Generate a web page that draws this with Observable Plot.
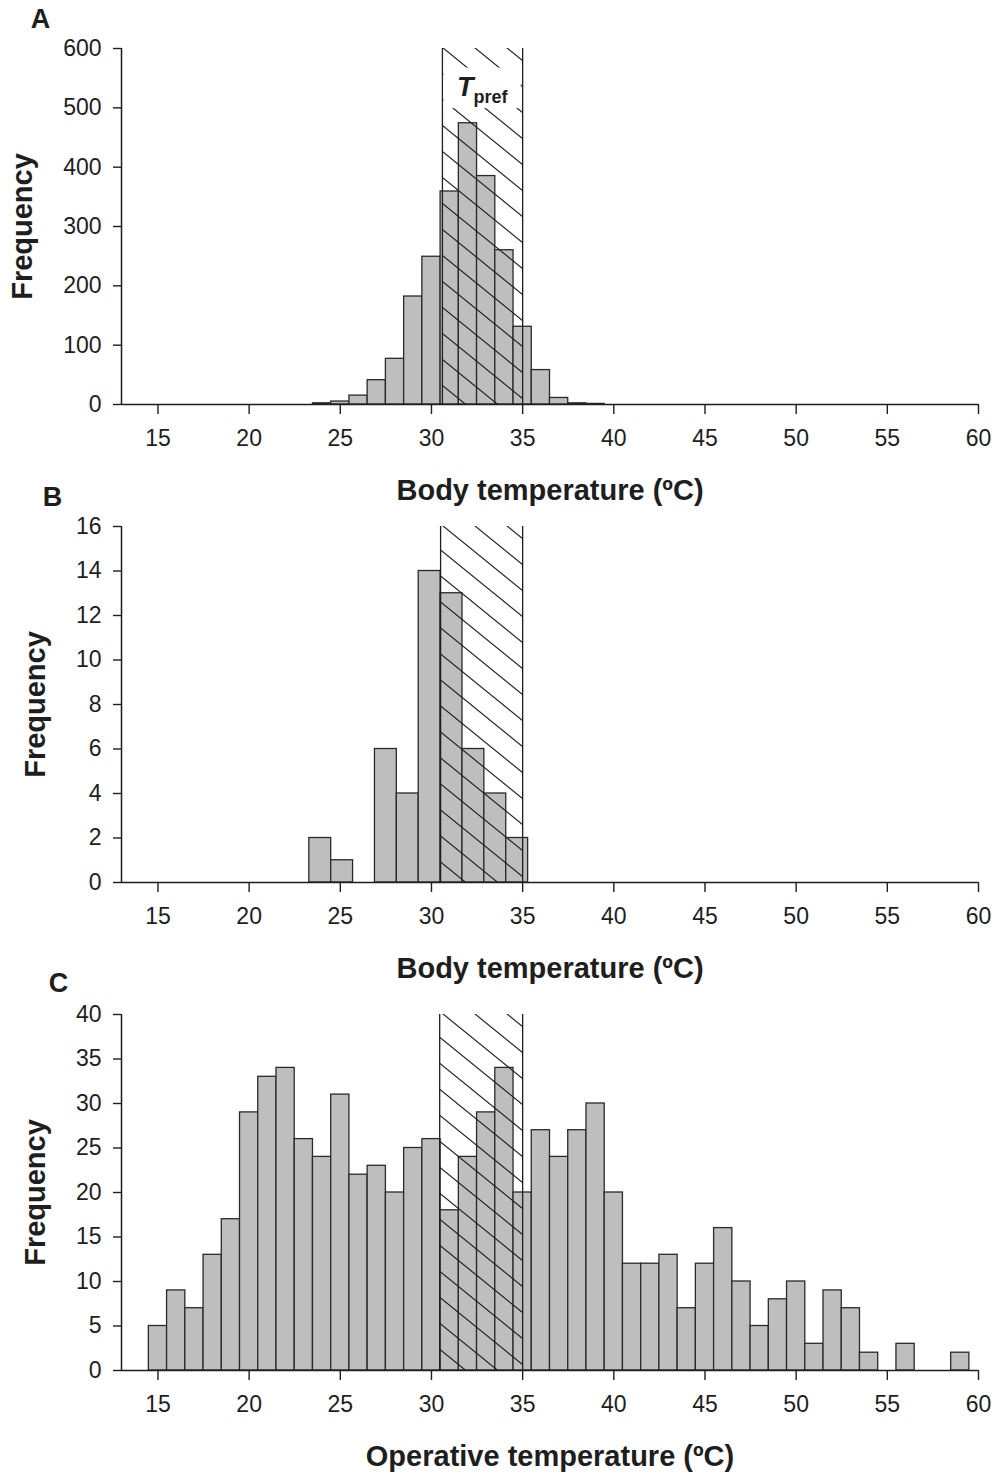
<!DOCTYPE html>
<html>
<head>
<meta charset="utf-8">
<script src="https://cdn.jsdelivr.net/npm/d3@7"></script>
<script src="https://cdn.jsdelivr.net/npm/@observablehq/plot@0.6"></script>
<style>
  body { margin: 0; background: #fff; }
  #wrap { position: relative; width: 995px; height: 1473px; overflow: hidden; background: #fff; }
  .panel { position: absolute; left: 0; }
  .panel svg { background: none !important; }
</style>
</head>
<body>
<div id="wrap"></div>
<script>
// ---------- data ----------
const xTicks = [15, 20, 25, 30, 35, 40, 45, 50, 55, 60];
const xDomain = [13, 60];

// Panel A: body temperature, 1 °C bins (centres)
const binCentersA = [24, 25, 26, 27, 28, 29, 30, 31, 32, 33, 34, 35, 36, 37, 38, 39];
const countsA     = [ 2,  5, 15, 41, 77, 182, 249, 359, 474, 385, 260, 131, 58, 11, 2, 1];
const binWidthA = 1;
const yTicksA = [0, 100, 200, 300, 400, 500, 600];
const tprefA = [30.6, 35.0];
const tprefLabelBandA = [499, 567];

// Panel B: body temperature, 1.2 °C bins (edges)
const binEdgesB = [23.3, 24.5, 25.7, 26.9, 28.1, 29.3, 30.5, 31.7, 32.9, 34.1, 35.3];
const countsB   = [2, 1, 0, 6, 4, 14, 13, 6, 4, 2];
const yTicksB = [0, 2, 4, 6, 8, 10, 12, 14, 16];
const tprefB = [30.5, 35.0];

// Panel C: operative temperature, 1 °C bins (centres)
const binCentersC = [15, 16, 17, 18, 19, 20, 21, 22, 23, 24, 25, 26, 27, 28, 29, 30, 31, 32, 33, 34, 35, 36, 37,
                     38, 39, 40, 41, 42, 43, 44, 45, 46, 47, 48, 49, 50, 51, 52, 53, 54, 55, 56, 57, 58, 59];
const countsC     = [ 5,  9,  7, 13, 17, 29, 33, 34, 26, 24, 31, 22, 23, 20, 25, 26, 18, 24, 29, 34, 20, 27, 24,
                     27, 30, 20, 12, 12, 13,  7, 12, 16, 10,  5,  8, 10,  3,  9,  7,  2,  0,  3,  0,  0,  2];
const binWidthC = 1;
const yTicksC = [0, 5, 10, 15, 20, 25, 30, 35, 40];
const tprefC = [30.45, 35.0];

// ---------- build rows ----------
const rowsA = binCentersA.map((c, i) => ({x1: c - binWidthA / 2, x2: c + binWidthA / 2, n: countsA[i]})).filter(d => d.n > 0);
const rowsB = countsB.map((n, i) => ({x1: binEdgesB[i], x2: binEdgesB[i + 1], n})).filter(d => d.n > 0);
const rowsC = binCentersC.map((c, i) => ({x1: c - binWidthC / 2, x2: c + binWidthC / 2, n: countsC[i]})).filter(d => d.n > 0);

const FONT = '"Liberation Sans", Arial, Helvetica, sans-serif';
const INK = "#1e1e1e";

function addPattern(svg, id) {
  const ns = "http://www.w3.org/2000/svg";
  const defs = document.createElementNS(ns, "defs");
  const pat = document.createElementNS(ns, "pattern");
  const w = 32, h = 26;
  pat.setAttribute("id", id);
  pat.setAttribute("patternUnits", "userSpaceOnUse");
  pat.setAttribute("width", w);
  pat.setAttribute("height", h);
  const path = document.createElementNS(ns, "path");
  path.setAttribute("d", `M${-w},${-h}L${2*w},${2*h}M0,${-h}L${3*w},${2*h}M${-2*w},${-h}L${w},${2*h}`);
  path.setAttribute("stroke", INK);
  path.setAttribute("stroke-width", "1.15");
  path.setAttribute("fill", "none");
  pat.appendChild(path);
  defs.appendChild(pat);
  svg.insertBefore(defs, svg.firstChild);
}

function panel(cfg) {
  const marks = [
    Plot.rect(cfg.rows, {x1: "x1", x2: "x2", y1: 0, y2: "n", fill: "#bebebe", stroke: "#2a2a2a", strokeWidth: 1.3}),
    Plot.rect([cfg.tpref], {x1: d => d[0], x2: d => d[1], y1: cfg.yDomain[0], y2: cfg.yDomain[1], fill: `url(#${cfg.id})`}),
    Plot.ruleX(cfg.tpref, {stroke: INK, strokeWidth: 1.3})
  ];
  if (cfg.labelBand) {
    marks.push(
      Plot.rect([cfg.tpref], {x1: d => d[0], x2: d => d[1], y1: cfg.labelBand[0], y2: cfg.labelBand[1], fill: "white", insetLeft: 1.5, insetRight: 1.5}),
      Plot.text([cfg.tpref], {x: d => (d[0] + d[1]) / 2, text: () => "T", frameAnchor: "top", lineAnchor: "middle", textAnchor: "end",
        dy: 39, dx: -9, fontSize: 27, fontWeight: "bold", fontStyle: "italic", fill: INK}),
      Plot.text([cfg.tpref], {x: d => (d[0] + d[1]) / 2, text: () => "pref", frameAnchor: "top", lineAnchor: "middle", textAnchor: "start",
        dy: 49, dx: -9, fontSize: 18, fontWeight: "bold", fill: INK})
    );
  }
  marks.push(
    Plot.ruleY([cfg.yDomain[0]], {stroke: INK, strokeWidth: 1.5}),
    Plot.ruleX([xDomain[0]], {stroke: INK, strokeWidth: 1.5}),
    Plot.axisX(xTicks, {tickSize: 10, tickPadding: 15, fontSize: 23, label: null, stroke: INK, strokeWidth: 1.4, fill: INK}),
    Plot.axisY(cfg.yTicks, {tickSize: 8, tickPadding: 12, fontSize: 23, label: null, stroke: INK, strokeWidth: 1.4, fill: INK}),
    Plot.text(["Frequency"], {text: d => d, frameAnchor: "left", textAnchor: "middle", lineAnchor: "middle",
      dx: cfg.freqDx, rotate: -90, fontSize: 29, fontWeight: "bold", fill: INK}),
    Plot.text([cfg.xTitle], {text: d => d, frameAnchor: "bottom", textAnchor: "middle", lineAnchor: "middle",
      dy: 86, fontSize: 29, fontWeight: "bold", fill: INK}),
    Plot.text([cfg.letter], {text: d => d, frameAnchor: "top-left", textAnchor: "middle", lineAnchor: "middle",
      dx: cfg.letterDx, dy: cfg.letterDy, fontSize: 27, fontWeight: "bold", fill: INK})
  );
  const svg = Plot.plot({
    width: 995,
    height: cfg.height,
    marginTop: 48,
    marginBottom: cfg.height - 48 - 356,
    marginLeft: 121,
    marginRight: 17,
    style: {fontFamily: FONT, background: "none", color: INK, overflow: "visible"},
    x: {domain: xDomain},
    y: {domain: cfg.yDomain},
    marks
  });
  addPattern(svg, cfg.id);
  const div = document.createElement("div");
  div.className = "panel";
  div.style.top = cfg.top + "px";
  div.appendChild(svg);
  document.getElementById("wrap").appendChild(div);
}

panel({id: "hatchA", top: 0, height: 510, rows: rowsA, yDomain: [0, 600], yTicks: yTicksA, tpref: tprefA, labelBand: tprefLabelBandA,
       xTitle: "Body temperature (ºC)", letter: "A", letterDx: -81, letterDy: -29, freqDx: -99});
panel({id: "hatchB", top: 478, height: 510, rows: rowsB, yDomain: [0, 16], yTicks: yTicksB, tpref: tprefB,
       xTitle: "Body temperature (ºC)", letter: "B", letterDx: -69, letterDy: -29, freqDx: -86});
panel({id: "hatchC", top: 966, height: 507, rows: rowsC, yDomain: [0, 40], yTicks: yTicksC, tpref: tprefC,
       xTitle: "Operative temperature (ºC)", letter: "C", letterDx: -63, letterDy: -31, freqDx: -86});
</script>
</body>
</html>
